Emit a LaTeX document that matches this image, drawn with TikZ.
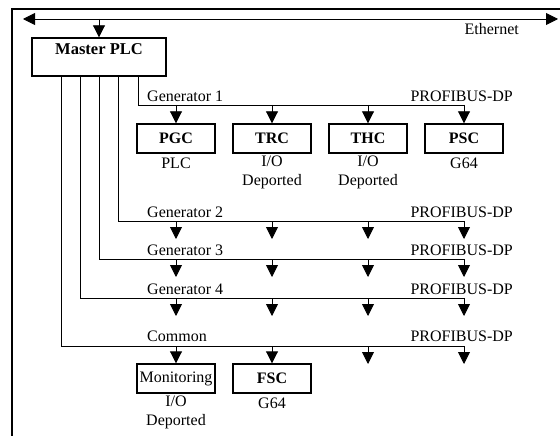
\documentclass[tikz,border=0pt]{standalone}
\usepackage{fontspec}
\setmainfont{Liberation Serif}
\usetikzlibrary{arrows.meta}
\tikzset{
  txt/.style={font=\fontsize{16}{19}\selectfont, inner sep=0pt},
  unit/.style={draw, line width=1.4pt, minimum width=78pt, minimum height=29pt, inner sep=0pt, font=\fontsize{16}{19}\selectfont\bfseries},
  bus/.style={line width=0.9pt},
  tap/.style={line width=0.9pt, -{Triangle[length=12pt,width=12pt]}},
}

\begin{document}
\begin{tikzpicture}[x=1pt,y=-1pt]
			%%%%% START %%%%%
			\useasboundingbox (0,0) rectangle (560,436);
			\draw[line width=1.3pt] (12,436) -- (12,9) -- (560,9);
			
			% Ethernet
			\coordinate (ethL) at (23,19);
			\coordinate (ethR) at (558,19);
			\draw[bus, {Triangle[length=12pt,width=12pt]}-{Triangle[length=12pt,width=12pt]}] (ethL) -- (ethR);
			\node[txt, anchor=east] (eth) at (519,29) {Ethernet};
			
			% Master PLC
			\node[draw, line width=1.4pt, minimum width=134pt, minimum height=38pt, inner sep=0pt] (master) at (99,57) {};
			\node[txt, font=\fontsize{16.5}{19}\selectfont\bfseries] (mastertxt) at (99,49) {Master PLC};
			\draw[tap] (ethL -| master) -- (master);
			
			% buses
			\coordinate (g1) at (464,105);
			\coordinate (g2) at (464,221);
			\coordinate (g3) at (464,259);
			\coordinate (g4) at (464,298);
			\coordinate (com) at (464,346);
			\draw[bus] (138,76) |- (g1);
			\draw[bus] (118,76) |- (g2);
			\draw[bus] (99,76) |- (g3);
			\draw[bus] (80,76) |- (g4);
			\draw[bus] (61,76) |- (com);
			
			\node[txt, anchor=west] (g1name) at (147,96) {Generator 1};
			\node[txt, anchor=west] (g2name) at (147,212) {Generator 2};
			\node[txt, anchor=west] (g3name) at (147,250) {Generator 3};
			\node[txt, anchor=west] (g4name) at (147,289) {Generator 4};
			\node[txt, anchor=west] (comname) at (147,336) {Common};
			\node[txt, anchor=east] (g1dp) at (513,96) {PROFIBUS-DP};
			\node[txt, anchor=east] (g2dp) at (513,212) {PROFIBUS-DP};
			\node[txt, anchor=east] (g3dp) at (513,250) {PROFIBUS-DP};
			\node[txt, anchor=east] (g4dp) at (513,289) {PROFIBUS-DP};
			\node[txt, anchor=east] (comdp) at (513,336) {PROFIBUS-DP};
			
			% generator 1 units
			\node[unit] (pgc) at (176,138.5) {PGC};
			\node[unit] (trc) at (272,138.5) {TRC};
			\node[unit] (thc) at (368,138.5) {THC};
			\node[unit] (psc) at (464,138.5) {PSC};
			\node[txt] (pgcsub) at (176,163) {PLC};
			\node[txt, align=center] (trcsub) at (272,172.5) {I/O\\Deported};
			\node[txt, align=center] (thcsub) at (368,172.5) {I/O\\Deported};
			\node[txt] (pscsub) at (464,163) {G64};
			\foreach \n in {pgc,trc,thc,psc}
				\draw[tap] (\n.north |- g1) -- (\n.north);
			
			% generators 2 to 4
			\foreach \g in {g2,g3,g4}
				\foreach \x in {176,272,368,464}
					\draw[tap] (\x,0 |- \g) -- ++(0,18);
			
			% common units
			\node[unit, font=\fontsize{16}{19}\selectfont] (mon) at (176,378.5) {Monitoring};
			\node[unit] (fsc) at (272,378.5) {FSC};
			\node[txt, align=center] (monsub) at (176,412.5) {I/O\\Deported};
			\node[txt] (fscsub) at (272,403) {G64};
			\draw[tap] (mon.north |- com) -- (mon.north);
			\draw[tap] (fsc.north |- com) -- (fsc.north);
			\foreach \x in {368,464}
				\draw[tap] (\x,0 |- com) -- ++(0,18);
			%%%%% END %%%%%
\end{tikzpicture}
\end{document}
